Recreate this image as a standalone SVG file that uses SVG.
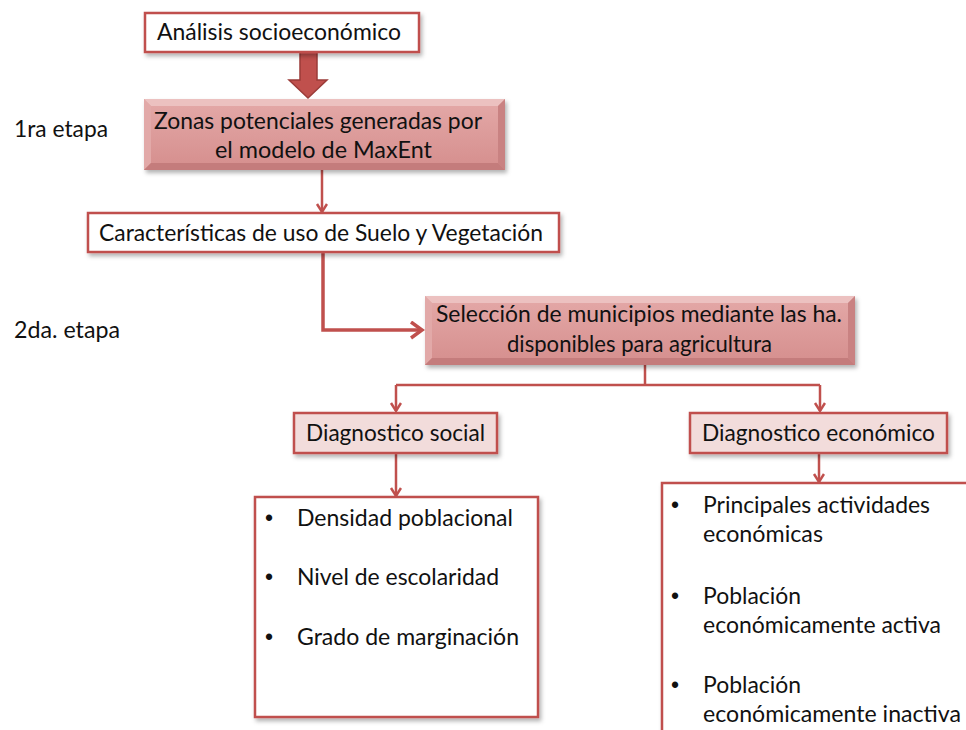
<svg xmlns="http://www.w3.org/2000/svg" width="966" height="730" viewBox="0 0 966 730">
<defs>
<style>
.t{font-family:Lato,"Open Sans","Liberation Sans",sans-serif;font-size:23px;fill:#111}
.b{font-family:"Liberation Sans",sans-serif;font-size:23px;fill:#111}
.box{fill:#fff;stroke:#c0504d;stroke-width:2.5}
.pink{fill:#f2dcdb;stroke:#c0504d;stroke-width:2.5}
.c{fill:none;stroke:#c0504d;stroke-width:2.5}
.thick{fill:none;stroke:#c0504d;stroke-width:3.5}
</style>
<filter id="sh" x="-10%" y="-20%" width="130%" height="160%">
<feDropShadow dx="2" dy="3" stdDeviation="2" flood-color="#000" flood-opacity="0.3"/>
</filter>
<linearGradient id="bev" x1="0" y1="0" x2="0" y2="1">
<stop offset="0" stop-color="#e4a9a8"/>
<stop offset="1" stop-color="#d58e8d"/>
</linearGradient>
<marker id="ah" markerUnits="userSpaceOnUse" markerWidth="14" markerHeight="14" refX="9" refY="6" orient="auto">
<path d="M1,1 L9,6 L1,11" fill="none" stroke="#c0504d" stroke-width="2.5"/>
</marker>
<marker id="ahb" markerUnits="userSpaceOnUse" markerWidth="18" markerHeight="20" refX="12" refY="9" orient="auto">
<path d="M1,1 L12,9 L1,17" fill="none" stroke="#c0504d" stroke-width="3.5"/>
</marker>
</defs>
<rect width="966" height="730" fill="#fff"/>

<g id="labels">
<text class="t" x="14" y="137" textLength="94" lengthAdjust="spacingAndGlyphs">1ra etapa</text>
<text class="t" x="14" y="338" textLength="106" lengthAdjust="spacingAndGlyphs">2da. etapa</text>
</g>

<g id="connectors">
<path d="M300,52 H317 V80 H327 L308,98 L289,80 H300 Z" fill="#c0504d" stroke="#9b3b38" stroke-width="1.5"/>
<path class="c" d="M322,170 V212" marker-end="url(#ah)"/>
<path class="thick" d="M323,252 V330 H422" marker-end="url(#ahb)"/>
<path class="c" d="M645,365 V385 M396,385 H820"/>
<path class="c" d="M396,385 V411" marker-end="url(#ah)"/>
<path class="c" d="M820,385 V411" marker-end="url(#ah)"/>
<path class="c" d="M396,453 V496" marker-end="url(#ah)"/>
<path class="c" d="M819,453 V482" marker-end="url(#ah)"/>
</g>

<g id="n1">
<rect class="box" x="145" y="13" width="274" height="39" filter="url(#sh)"/>
<text class="t" x="157" y="40" textLength="244" lengthAdjust="spacingAndGlyphs">Análisis socioeconómico</text>
</g>

<g id="n2">
<g filter="url(#sh)">
<rect x="144" y="99" width="361" height="71" fill="url(#bev)"/>
<polygon points="144,99 505,99 498,106 151,106" fill="#ecc1c0"/>
<polygon points="144,99 151,106 151,163 144,170" fill="#e2a9a8"/>
<polygon points="505,99 505,170 498,163 498,106" fill="#c98282"/>
<polygon points="144,170 505,170 498,163 151,163" fill="#c47c7b"/>
</g>
<text class="t" x="154" y="129" textLength="328" lengthAdjust="spacingAndGlyphs">Zonas potenciales generadas por</text>
<text class="t" x="215" y="158" textLength="217" lengthAdjust="spacingAndGlyphs">el modelo de MaxEnt</text>
</g>

<g id="n3">
<rect class="box" x="88" y="213" width="471" height="39" filter="url(#sh)"/>
<text class="t" x="99" y="241" textLength="444" lengthAdjust="spacingAndGlyphs">Características de uso de Suelo y Vegetación</text>
</g>

<g id="n4">
<g filter="url(#sh)">
<rect x="425" y="296" width="430" height="69" fill="url(#bev)"/>
<polygon points="425,296 855,296 848,303 432,303" fill="#ecc1c0"/>
<polygon points="425,296 432,303 432,358 425,365" fill="#e2a9a8"/>
<polygon points="855,296 855,365 848,358 848,303" fill="#c98282"/>
<polygon points="425,365 855,365 848,358 432,358" fill="#c47c7b"/>
</g>
<text class="t" x="436" y="322" textLength="406" lengthAdjust="spacingAndGlyphs">Selección de municipios mediante las ha.</text>
<text class="t" x="507" y="352" textLength="265" lengthAdjust="spacingAndGlyphs">disponibles para agricultura</text>
</g>

<g id="n5">
<rect class="pink" x="294" y="413" width="203" height="40" filter="url(#sh)"/>
<text class="t" x="306" y="441" textLength="179" lengthAdjust="spacingAndGlyphs">Diagnostico social</text>
</g>

<g id="n6">
<rect class="pink" x="690" y="413" width="257" height="40" filter="url(#sh)"/>
<text class="t" x="702" y="441" textLength="233" lengthAdjust="spacingAndGlyphs">Diagnostico económico</text>
</g>

<g id="n7">
<rect class="box" x="255" y="497" width="283" height="220" filter="url(#sh)"/>
<text class="b" x="265" y="526">•</text>
<text class="t" x="297" y="526" textLength="216" lengthAdjust="spacingAndGlyphs">Densidad poblacional</text>
<text class="b" x="265" y="585">•</text>
<text class="t" x="297" y="585" textLength="202" lengthAdjust="spacingAndGlyphs">Nivel de escolaridad</text>
<text class="b" x="265" y="645">•</text>
<text class="t" x="297" y="645" textLength="222" lengthAdjust="spacingAndGlyphs">Grado de marginación</text>
</g>

<g id="n8">
<rect class="box" x="662" y="483" width="330" height="270" filter="url(#sh)"/>
<text class="b" x="671" y="513">•</text>
<text class="t" x="703" y="513" textLength="227" lengthAdjust="spacingAndGlyphs">Principales actividades</text>
<text class="t" x="703" y="542" textLength="120" lengthAdjust="spacingAndGlyphs">económicas</text>
<text class="b" x="671" y="604">•</text>
<text class="t" x="703" y="604" textLength="98" lengthAdjust="spacingAndGlyphs">Población</text>
<text class="t" x="703" y="633" textLength="238" lengthAdjust="spacingAndGlyphs">económicamente activa</text>
<text class="b" x="671" y="693">•</text>
<text class="t" x="703" y="693" textLength="98" lengthAdjust="spacingAndGlyphs">Población</text>
<text class="t" x="703" y="722" textLength="258" lengthAdjust="spacingAndGlyphs">económicamente inactiva</text>
</g>
</svg>
